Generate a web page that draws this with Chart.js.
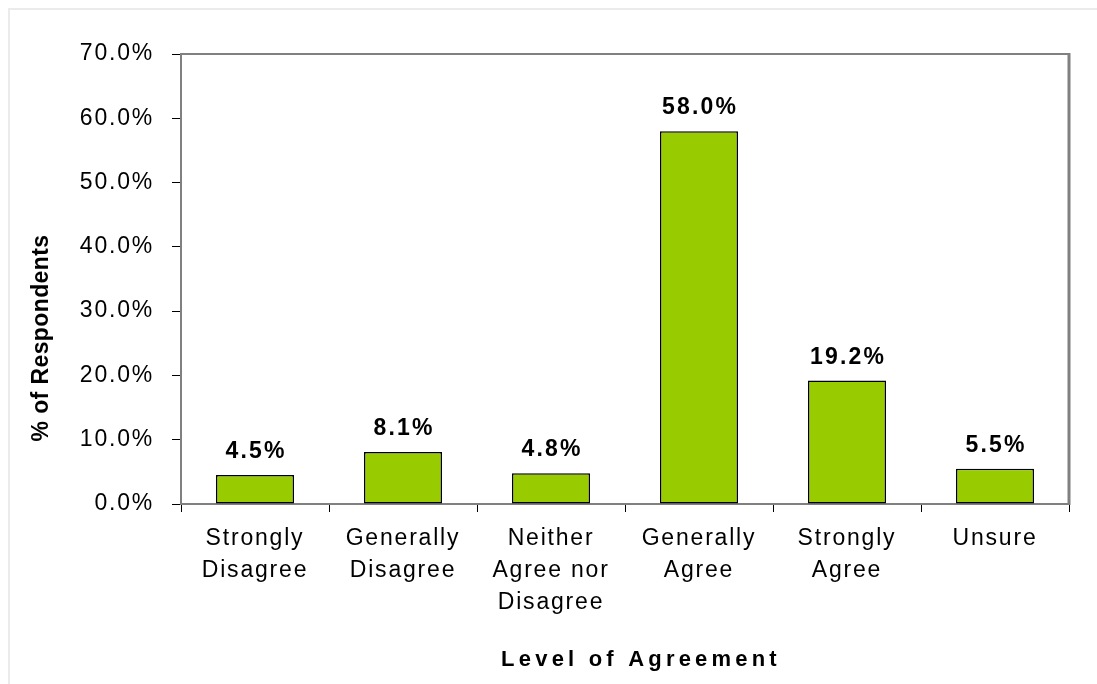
<!DOCTYPE html>
<html><head><meta charset="utf-8">
<script src="https://cdn.jsdelivr.net/npm/chart.js@4"></script>
<style>html,body{margin:0;padding:0;background:#fff;overflow:hidden}canvas{display:block}</style>
</head><body>
<canvas id="c" width="1097" height="684"></canvas>
<script>
const categories = [['Strongly','Disagree'],['Generally','Disagree'],['Neither','Agree nor','Disagree'],['Generally','Agree'],['Strongly','Agree'],['Unsure']];
const percentRespondents = [4.5, 8.1, 4.8, 58.0, 19.2, 5.5];
const yMin = 0, yMax = 70, yStep = 10;
const xTitle = 'Level of Agreement';
const yTitle = '% of Respondents';

const FONT = '"Liberation Sans", Arial, sans-serif';
const SP = '1.8px';

const decor = {
  id: 'decor',
  beforeUpdate(chart){ chart.ctx.letterSpacing = SP; },
  beforeLayout(chart){ chart.ctx.letterSpacing = SP; },
  beforeDraw(chart){
    const c = chart.ctx;
    c.save();
    c.letterSpacing = '0px';
    c.fillStyle = '#fff';
    c.fillRect(0, 0, chart.width, chart.height);
    c.fillStyle = '#ebebeb';
    c.fillRect(8, 8, chart.width - 8, 2);
    c.fillRect(8, 8, 2, chart.height - 8);
    c.restore();
    c.letterSpacing = SP;
  },
  afterDatasetsDraw(chart){
    const c = chart.ctx, a = chart.chartArea;
    c.save();
    c.strokeStyle = '#808080';
    c.lineWidth = 2;
    c.beginPath();
    c.moveTo(a.left, a.top); c.lineTo(a.right, a.top);
    c.stroke();
    c.lineWidth = 3;
    c.beginPath();
    c.moveTo(a.right, a.top - 1); c.lineTo(a.right, a.bottom + 1);
    c.stroke();
    const meta = chart.getDatasetMeta(0);
    c.font = 'bold 23px ' + FONT;
    c.letterSpacing = '2.2px';
    c.textAlign = 'center';
    c.textBaseline = 'alphabetic';
    c.fillStyle = '#000';
    meta.data.forEach((bar, i) => {
      c.fillText(percentRespondents[i].toFixed(1) + '%', bar.x + 1.1, bar.y - 17);
    });
    c.font = 'bold 22px ' + FONT;
    c.letterSpacing = '4.2px';
    c.textBaseline = 'middle';
    c.fillText(xTitle, (a.left + a.right) / 2 + 16, 660);
    c.font = 'bold 23px ' + FONT;
    c.letterSpacing = '0.4px';
    c.translate(42, (a.top + a.bottom) / 2 + 59);
    c.rotate(-Math.PI / 2);
    c.fillText(yTitle, 0, 0);
    c.restore();
    c.letterSpacing = SP;
  }
};

new Chart(document.getElementById('c'), {
  type: 'bar',
  data: {
    labels: categories,
    datasets: [{
      data: percentRespondents,
      backgroundColor: '#99cc00',
      borderColor: '#000',
      borderWidth: 1.5,
      borderSkipped: false,
      categoryPercentage: 1,
      barPercentage: 0.527
    }]
  },
  options: {
    responsive: false,
    animation: false,
    devicePixelRatio: 1,
    layout: { padding: { top: 54, right: 28, left: 0, bottom: 0 } },
    plugins: { legend: { display: false }, tooltip: { enabled: false } },
    scales: {
      x: {
        afterFit(s){ s.height = 180; },
        grid: { display: true, drawOnChartArea: false, drawTicks: true, tickLength: 8, color: '#000', lineWidth: 1, offset: true },
        border: { display: true, color: '#808080', width: 2 },
        ticks: { color: '#000', font: { family: FONT, size: 23, lineHeight: 1.39 }, padding: 11, maxRotation: 0, autoSkip: false }
      },
      y: {
        min: yMin, max: yMax,
        afterFit(s){ s.width = 181; },
        grid: { display: true, drawOnChartArea: false, drawTicks: true, tickLength: 9, color: '#000', lineWidth: 1 },
        border: { display: true, color: '#808080', width: 2 },
        ticks: { stepSize: yStep, color: '#000', font: { family: FONT, size: 23 }, padding: 18,
                 callback: v => v.toFixed(1) + '%' }
      }
    }
  },
  plugins: [decor]
});
</script>
</body></html>
